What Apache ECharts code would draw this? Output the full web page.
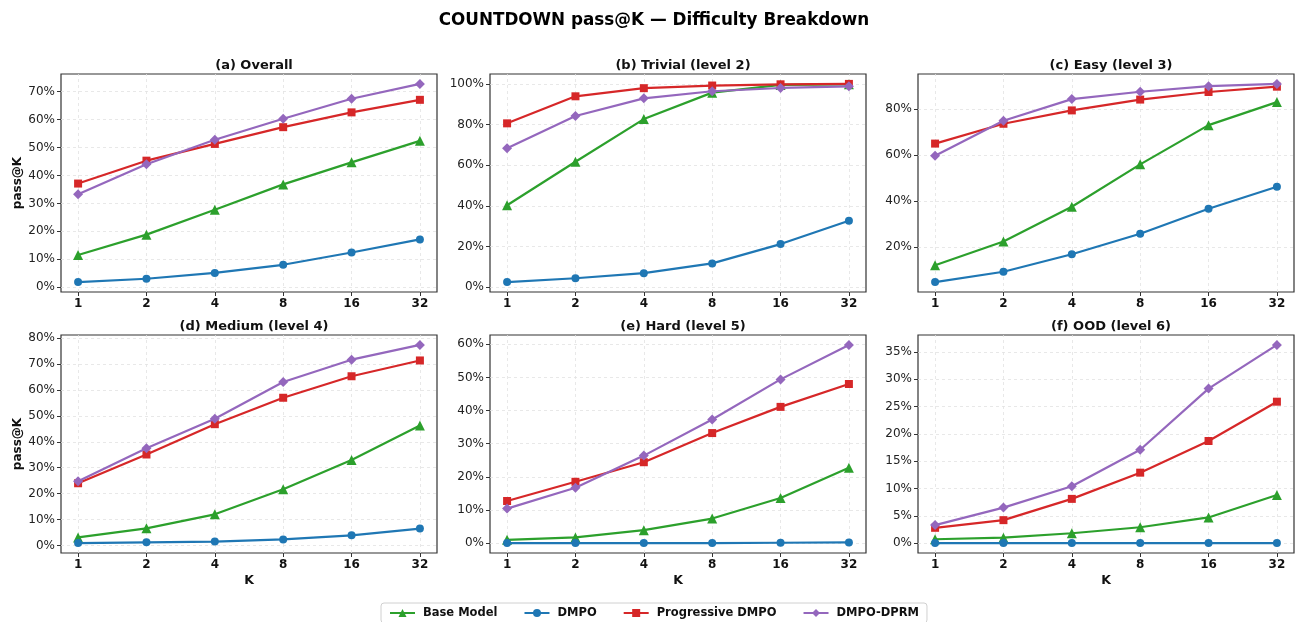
<!DOCTYPE html>
<html>
<head>
<meta charset="utf-8">
<script src="https://cdn.jsdelivr.net/npm/echarts@6/dist/echarts.min.js"></script>
<style>
html,body{margin:0;padding:0;background:#fff;}
#chart{width:1296px;height:622px;}
</style>
</head>
<body>
<div id="chart"></div>
<script>
// ---- data ----
const kLabels = ['1', '2', '4', '8', '16', '32'];
const panelTitles = ['(a) Overall', '(b) Trivial (level 2)', '(c) Easy (level 3)',
                     '(d) Medium (level 4)', '(e) Hard (level 5)', '(f) OOD (level 6)'];
const seriesNames = ['Base Model', 'DMPO', 'Progressive DMPO', 'DMPO-DPRM'];

// values in % per panel (a..f)
const baseModel = [
  [11.5, 18.8, 27.7, 36.8, 44.7, 52.4],
  [40.3, 61.7, 82.7, 95.7, 99.5, 99.8],
  [12.2, 22.5, 37.6, 56.0, 73.0, 83.0],
  [3.1, 6.6, 12.0, 21.7, 33.0, 46.3],
  [1.0, 1.7, 3.9, 7.4, 13.6, 22.7],
  [0.7, 1.0, 1.8, 2.9, 4.7, 8.8]
];
const dmpo = [
  [1.8, 3.0, 5.1, 8.0, 12.4, 17.1],
  [2.5, 4.4, 6.9, 11.7, 21.2, 32.7],
  [4.9, 9.4, 17.0, 25.9, 36.7, 46.3],
  [0.9, 1.2, 1.5, 2.3, 3.9, 6.5],
  [0.0, 0.0, 0.0, 0.0, 0.1, 0.2],
  [0.0, 0.0, 0.0, 0.0, 0.0, 0.0]
];
const progressiveDmpo = [
  [37.1, 45.3, 51.3, 57.3, 62.6, 67.1],
  [80.6, 93.9, 97.9, 99.2, 99.8, 100.0],
  [65.0, 73.6, 79.4, 84.1, 87.4, 89.7],
  [24.0, 35.1, 46.8, 57.0, 65.3, 71.4],
  [12.7, 18.5, 24.4, 33.2, 41.1, 48.0],
  [2.8, 4.2, 8.1, 12.9, 18.7, 25.9]
];
const dmpoDprm = [
  [33.3, 44.0, 52.8, 60.3, 67.5, 72.8],
  [68.3, 84.2, 92.9, 96.4, 98.0, 98.8],
  [59.7, 74.9, 84.3, 87.5, 89.9, 90.9],
  [24.8, 37.5, 48.9, 63.1, 71.7, 77.4],
  [10.4, 16.7, 26.4, 37.3, 49.4, 59.8],
  [3.3, 6.5, 10.4, 17.1, 28.3, 36.3]
];
const yTicks = [
  [0, 10, 20, 30, 40, 50, 60, 70],
  [0, 20, 40, 60, 80, 100],
  [20, 40, 60, 80],
  [0, 10, 20, 30, 40, 50, 60, 70, 80],
  [0, 10, 20, 30, 40, 50, 60],
  [0, 5, 10, 15, 20, 25, 30, 35]
];

// ---- styling ----
const colors = ['#2ca02c', '#1f77b4', '#d62728', '#9467bd'];
const symbols = ['triangle', 'circle', 'rect', 'diamond'];
const symbolSizes = [10, 8, 8, 10];
const FONT = 'DejaVu Sans';

const lefts = [61, 490, 918];
const tops = [74, 335];
const W = 376, H = 218;

const allSeriesData = [baseModel, dmpo, progressiveDmpo, dmpoDprm];
const xTickIdx = kLabels.map((_, i) => i);

const grids = [], xAxes = [], yAxes = [], series = [], titles = [];

titles.push({
  text: 'COUNTDOWN pass@K — Difficulty Breakdown',
  left: 649, top: 7, textAlign: 'center',
  textStyle: { fontFamily: FONT, fontSize: 16.8, fontWeight: 'bold', color: '#000' }
});

for (let p = 0; p < 6; p++) {
  const row = Math.floor(p / 3), col = p % 3;
  const left = lefts[col], top = tops[row];
  grids.push({
    left: left, top: top, width: W, height: H,
    show: true, borderColor: '#333', borderWidth: 1.2, backgroundColor: 'transparent'
  });
  titles.push({
    text: panelTitles[p],
    left: left + W / 2, top: top - 20, textAlign: 'center',
    textStyle: { fontFamily: FONT, fontSize: 13, fontWeight: 'bold', color: '#111' }
  });
  xAxes.push({
    type: 'value', gridIndex: p, min: -0.25, max: 5.25,
    name: row === 1 ? 'K' : '',
    nameLocation: 'middle', nameGap: 21,
    nameTextStyle: { fontFamily: FONT, fontSize: 12.5, fontWeight: 'bold', color: '#111' },
    axisLine: { show: false, onZero: false },
    axisTick: { show: true, customValues: xTickIdx, length: 4, lineStyle: { color: '#333', width: 1 } },
    axisLabel: {
      customValues: xTickIdx, margin: 6,
      formatter: v => kLabels[Math.round(v)] || '',
      fontFamily: FONT, fontSize: 12, fontWeight: 'bold', color: '#111'
    },
    splitLine: { show: false }
  });
  const vals = [].concat(baseModel[p], dmpo[p], progressiveDmpo[p], dmpoDprm[p]);
  const lo = Math.min.apply(null, vals), hi = Math.max.apply(null, vals);
  const pad = (hi - lo) * 0.05;
  yAxes.push({
    type: 'value', gridIndex: p, min: lo - pad, max: hi + pad,
    name: col === 0 ? 'pass@K' : '',
    nameLocation: 'middle', nameGap: 37, nameRotate: 90,
    nameTextStyle: { fontFamily: FONT, fontSize: 12, fontWeight: 'bold', color: '#111' },
    axisLine: { show: false, onZero: false },
    axisTick: { show: true, customValues: yTicks[p], length: 4, lineStyle: { color: '#333', width: 1 } },
    axisLabel: {
      customValues: yTicks[p], margin: 6,
      formatter: v => Math.round(v) + '%',
      fontFamily: FONT, fontSize: 12, color: '#222'
    },
    splitLine: { show: false }
  });
  // gridlines (dashed, light) via markLine on tick positions
  series.push({
    type: 'line', name: '_grid', xAxisIndex: p, yAxisIndex: p, data: [],
    silent: true, z: 0, animation: false,
    markLine: {
      silent: true, symbol: 'none', animation: false, z: 0,
      label: { show: false },
      lineStyle: { type: [3, 3], color: '#e2e2e2', width: 0.8 },
      data: xTickIdx.map(v => ({ xAxis: v })).concat(yTicks[p].map(v => ({ yAxis: v })))
    }
  });
  for (let s = 0; s < 4; s++) {
    series.push({
      type: 'line', name: seriesNames[s], xAxisIndex: p, yAxisIndex: p,
      data: allSeriesData[s][p].map((v, i) => [i, v]),
      symbol: symbols[s], symbolSize: symbolSizes[s], showSymbol: true,
      lineStyle: { color: colors[s], width: 2.2 },
      itemStyle: { color: colors[s] },
      z: 2 + s, animation: false
    });
  }
}

const chart = echarts.init(document.getElementById('chart'), null, { renderer: 'canvas' });
chart.setOption({
  backgroundColor: '#fff',
  animation: false,
  title: titles,
  grid: grids,
  xAxis: xAxes,
  yAxis: yAxes,
  legend: {
    data: seriesNames,
    left: 381, top: 603,
    itemWidth: 25, itemHeight: 10, itemGap: 26,
    padding: [4, 8],
    borderColor: '#d0d0d0', borderWidth: 1, borderRadius: 3,
    textStyle: { fontFamily: FONT, fontSize: 11.5, fontWeight: 'bold', color: '#111', padding: [0, 0, 0, 3] }
  },
  series: series
});
</script>
</body>
</html>
